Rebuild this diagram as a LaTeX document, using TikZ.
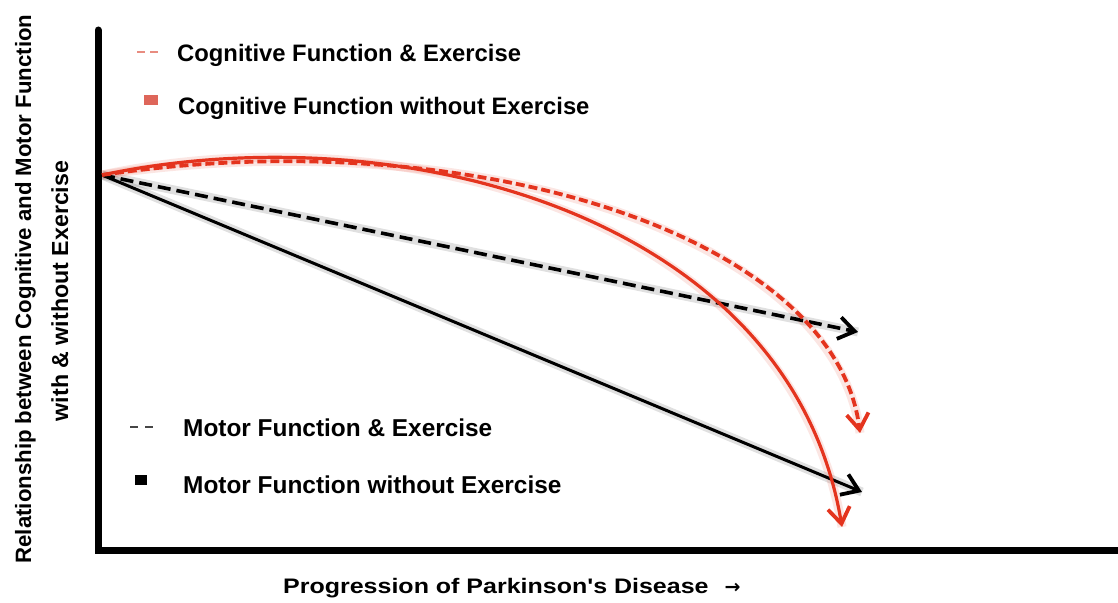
\documentclass[tikz,border=0pt]{standalone}
\usepackage{fontspec}
\setmainfont{Liberation Sans}
\newfontfamily\widefont[FakeStretch=1.19]{Liberation Sans}
\newfontfamily\symfont{DejaVu Sans}
\usetikzlibrary{arrows.meta}
\definecolor{cred}{RGB}{228,52,30}
\definecolor{credlight}{RGB}{232,140,128}
\definecolor{csquare}{RGB}{222,102,90}
\definecolor{cgreydash}{RGB}{70,70,70}
\tikzset{
  axisline/.style={line width=7pt, line cap=round, line join=miter, black},
  tip/.style={-{Straight Barb[length=16pt,width=22pt,line width=3.8pt]}},
  blacksolid/.style={tip, line width=3pt, black},
  blackdashed/.style={tip, line width=3.6pt, black, dash pattern=on 13pt off 6pt},
  redsolid/.style={tip, line width=3.2pt, cred},
  reddashed/.style={tip, line width=3.8pt, cred, dash pattern=on 9pt off 4pt},
  halo/.style={line width=9pt, opacity=0.12},
  legtext/.style={anchor=base west, inner sep=0pt, font=\fontsize{23.8}{28}\selectfont\bfseries},
  legtextm/.style={anchor=base west, inner sep=0pt, font=\fontsize{24.4}{28}\selectfont\bfseries},
  ylab/.style={rotate=90, anchor=base, inner sep=0pt},
}
\begin{document}
\begin{tikzpicture}[x=1pt,y=-1pt]
  \path[use as bounding box] (0,0) rectangle (1118,602);
  \fill[white] (0,0) rectangle (1118,602);

  % axes
  \coordinate (ytop) at (98,30);
  \coordinate (orig) at (98,550);
  \coordinate (xend) at (1122,550);
  \draw[axisline] (ytop) -- (orig) -- (xend);

  % axis labels
  \node[ylab, font=\fontsize{22.2}{26}\selectfont\bfseries] (ylab1) at (31,289)
    {Relationship between Cognitive and Motor Function};
  \node[ylab, font=\fontsize{23.2}{26}\selectfont\bfseries] (ylab2) at (68,291)
    {with \& without Exercise};
  \node[anchor=base west, inner sep=0pt] (xlab) at (283,593)
    {\fontsize{21}{26}\selectfont\widefont\bfseries Progression of Parkinson's Disease\hspace{16pt}{\symfont\fontsize{19}{22}\selectfont →}};

  % curves
  \coordinate (O) at (102,175);
  \coordinate (bsEnd) at (862,492);
  \coordinate (bdEnd) at (858,332);
  \coordinate (rsEnd) at (842,527);
  \coordinate (rdEnd) at (860,433);

  \draw[halo, black] (O) -- (bsEnd);
  \draw[halo, black] (O) -- (bdEnd);
  \draw[halo, cred] (O) .. controls (400,112) and (790,215) .. (rsEnd);
  \draw[halo, cred] (O) .. controls (470,120) and (835,235) .. (rdEnd);

  \draw[blacksolid] (O) -- (bsEnd);
  \draw[blackdashed] (O) -- (bdEnd);
  \draw[reddashed] (O) .. controls (470,120) and (835,235) .. (rdEnd);
  \draw[redsolid] (O) .. controls (400,112) and (790,215) .. (rsEnd);

  % legend (cognitive)
  \coordinate (cd1a) at (137,52); \coordinate (cd1b) at (145,52);
  \coordinate (cd2a) at (150,52); \coordinate (cd2b) at (158,52);
  \draw[credlight, line width=1.6pt] (cd1a) -- (cd1b) (cd2a) -- (cd2b);
  \node[legtext] (lg1) at (177,62) {Cognitive Function \& Exercise};
  \node[fill=csquare, minimum width=14pt, minimum height=10pt, inner sep=0pt] (sq1) at (151,100) {};
  \node[legtext] (lg2) at (178,114) {Cognitive Function without Exercise};

  % legend (motor)
  \coordinate (md1a) at (130,427); \coordinate (md1b) at (138,427);
  \coordinate (md2a) at (145,427); \coordinate (md2b) at (153,427);
  \draw[cgreydash, line width=1.6pt] (md1a) -- (md1b) (md2a) -- (md2b);
  \node[legtextm] (lg3) at (183,436) {Motor Function \& Exercise};
  \node[fill=black, minimum width=12pt, minimum height=10pt, inner sep=0pt] (sq2) at (141,480) {};
  \node[legtextm] (lg4) at (183,493) {Motor Function without Exercise};
\end{tikzpicture}
\end{document}
